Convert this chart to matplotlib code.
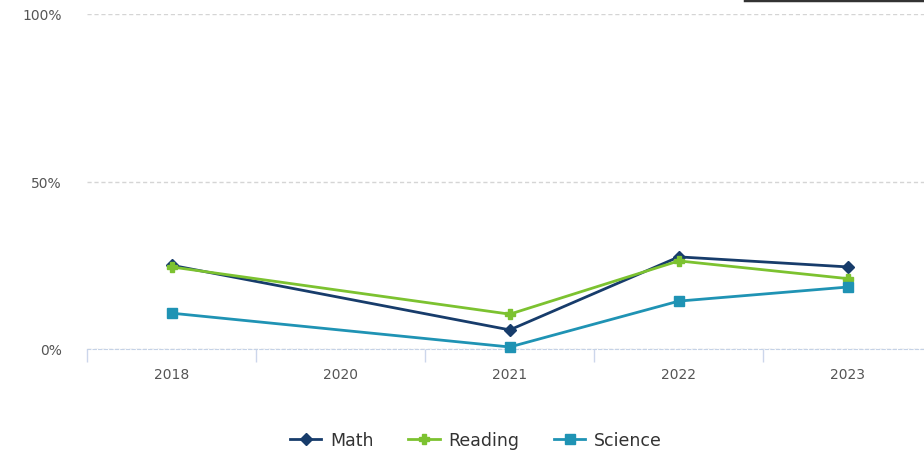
import numpy as np
import matplotlib.pyplot as plt
from matplotlib.ticker import FixedLocator, NullFormatter

# categories and series (percent), 2020 has no data
years = ['2018', '2020', '2021', '2022', '2023']
math = [25.0, None, 5.7, 27.5, 24.5]
reading = [24.5, None, 10.4, 26.3, 21.0]
science = [10.7, None, 0.6, 14.3, 18.5]

series = [
    ('Math', math, '#173c6b', 'D', 6),
    ('Reading', reading, '#7cc230', 'P', 7),
    ('Science', science, '#1f93b4', 's', 7),
]

fig = plt.figure(figsize=(9.24, 4.52), dpi=100)
ax = fig.add_axes([87 / 924, 102 / 452, 837 / 924, 335 / 452])

x = np.arange(len(years))
for name, vals, col, mk, ms in series:
    xs = [i for i, v in zip(x, vals) if v is not None]
    ys = [v for v in vals if v is not None]
    ax.plot(xs, ys, color=col, lw=2, marker=mk, ms=ms, label=name, clip_on=False, zorder=3)

ax.set_xlim(-0.5, 4.45)
ax.set_ylim(0, 100)
ax.set_yticks([0, 50, 100])
ax.set_yticklabels(['0%', '50%', '100%'])
ax.yaxis.grid(True, ls=(0, (3, 2)), color='#d5d5d5', lw=1)
ax.set_axisbelow(True)

ax.set_xticks(x)
ax.set_xticklabels(years)
ax.tick_params(axis='x', length=0, pad=13, labelsize=10, labelcolor='#555555')
ax.xaxis.set_minor_locator(FixedLocator(np.arange(-0.5, 5, 1)))
ax.xaxis.set_minor_formatter(NullFormatter())
ax.tick_params(axis='x', which='minor', length=9, color='#ccd6eb', width=1)
ax.tick_params(axis='y', length=0, pad=18, labelsize=10, labelcolor='#555555')

for s in ['top', 'right', 'left']:
    ax.spines[s].set_visible(False)
ax.spines['bottom'].set_color('#c5d2e6')
ax.spines['bottom'].set_linestyle((0, (3, 2)))

fig.legend(loc='center', bbox_to_anchor=(476 / 924, 1 - 441 / 452), ncol=3, frameon=False,
           fontsize=12.5, labelcolor='#333333', handlelength=1.8, columnspacing=2.0, handletextpad=0.5)

# edge of a box at top right
fig.add_artist(plt.Line2D([745 / 924, 1.0], [0.997, 0.997], color='#333333', lw=2.5,
                          transform=fig.transFigure))

fig.savefig('out.png', dpi=100)
